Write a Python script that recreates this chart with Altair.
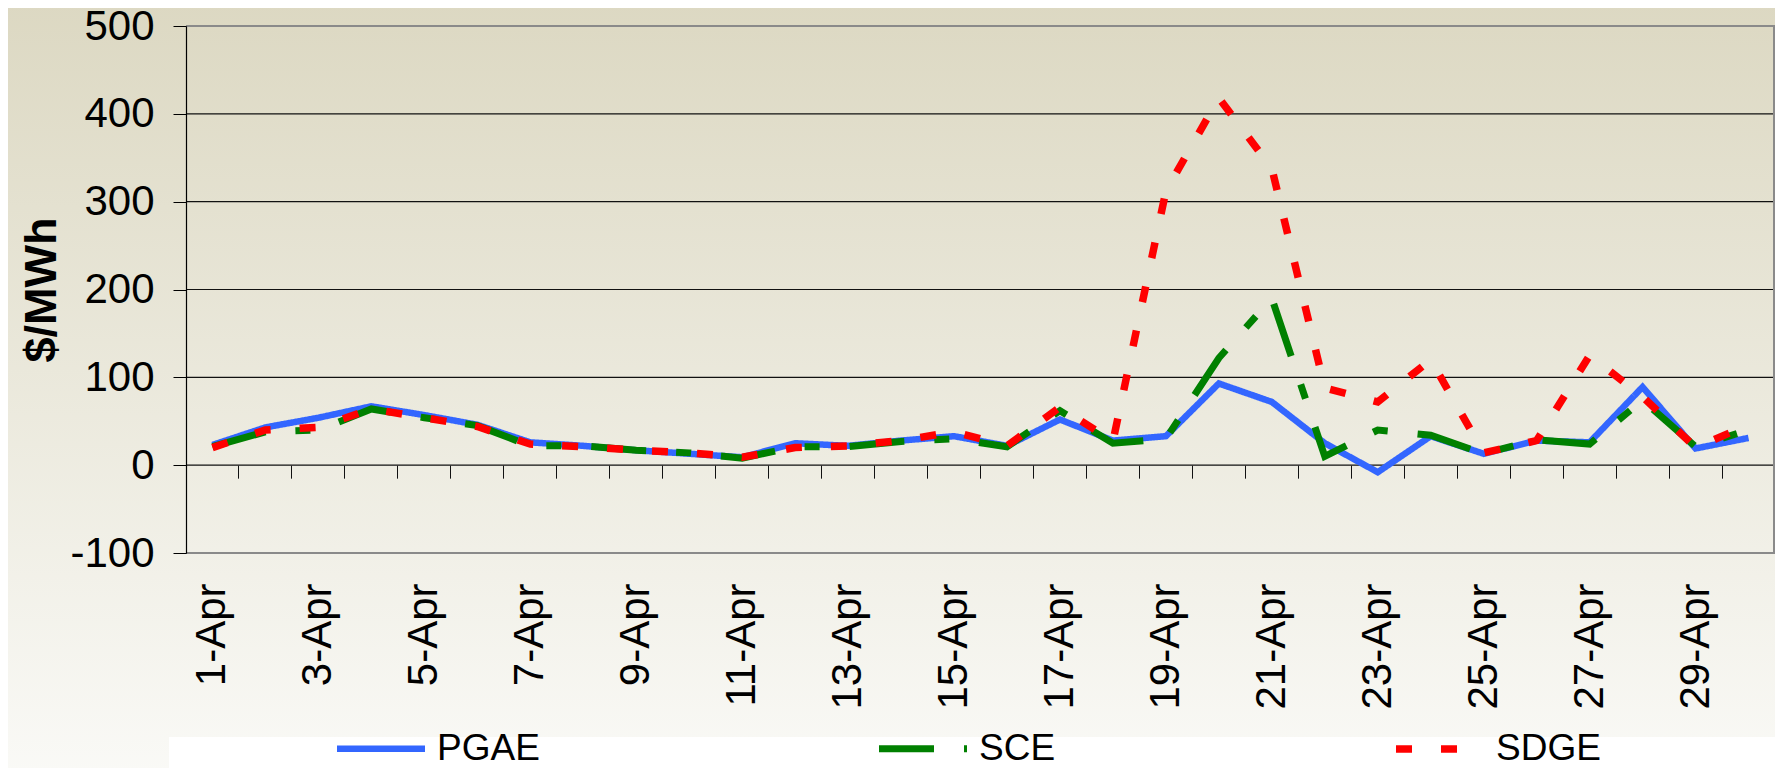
import altair as alt
import pandas as pd

# ---------------- data ----------------
dates = [f"{d}-Apr" for d in range(1, 31)]
label_dates = dates[::2]

pgae = [23, 43, 54, 67, 57, 46, 26, 22, 17, 13, 9, 25, 22, 28, 33, 22, 52, 28, 33, 93,
        72, 25, -8, 33, 13, 28, 26, 89, 19, 31]
sce = [21, 38, 40, 64, 54, 45, 22, 22, 17, 14, 8, 21, 21, 27, 30, 21, 62, 25, 30, 122,
       190, 10, 40, 34, 13, 29, 24, 74, 21, 40]
sdge = [20, 40, 43, 64, 54, 44, 24, 21, 17, 14, 9, 20, 22, 28, 38, 22, 66, 27, 312, 418,
        338, 88, 72, 120, 14, 28, 125, 78, 20, 46]

series_names = ["PGAE", "SCE", "SDGE"]
series_colors = ["#3366FF", "#008000", "#FF0000"]
series_dashes = [[1, 0], [55, 30, 15, 30], [16, 29]]
series_widths = [6.5, 7.5, 7.5]

y_ticks = [-100, 0, 100, 200, 300, 400, 500]

# ---------------- layout ----------------
W, H = 1589, 527
YMIN, YMAX = -100, 500
FONT = "Liberation Sans"
zero_from_bottom = H * (0 - YMIN) / (YMAX - YMIN)

df = pd.DataFrame({
    "date": dates * 3,
    "value": pgae + sce + sdge,
    "series": [s for s in series_names for _ in dates],
})
grid_df = pd.DataFrame({"value": y_ticks})
one = pd.DataFrame({"a": [0]})
tick_df = pd.DataFrame({"date": dates})

xscale = alt.Scale(type="band", paddingInner=0, paddingOuter=0)
yscale = alt.Scale(domain=[YMIN, YMAX], nice=False, zero=False)

y_axis = alt.Axis(values=y_ticks, grid=False, tickSize=13, tickColor="black",
                  tickWidth=1, domainColor="black", domainWidth=1.2,
                  labelFontSize=42, labelFont=FONT, labelColor="black", labelPadding=19,
                  labelExpr="'' + datum.value",
                  title="$/MWh", titleFont=FONT, titleFontSize=45,
                  titleFontWeight="bold", titleColor="black", titlePadding=5,
                  zindex=1)

gradient = {
    "gradient": "linear", "x1": 0, "y1": 0, "x2": 0, "y2": 1,
    "stops": [{"offset": 0, "color": "#DCD8C2"}, {"offset": 1, "color": "#FAFAF7"}],
}

bg = alt.Chart(one).mark_rect(color=gradient).encode(
    x=alt.value(-186), x2=alt.value(W + 30), y=alt.value(-26), y2=alt.value(784 - 26)
)
legend_box = alt.Chart(one).mark_rect(color="white").encode(
    x=alt.value(-17), x2=alt.value(W + 30), y=alt.value(711), y2=alt.value(800)
)

grid = alt.Chart(grid_df).mark_rule().encode(
    y=alt.Y("value:Q", scale=yscale, axis=y_axis),
    color=alt.condition("datum.value == 500 || datum.value == -100", alt.value("#8A8A8A"), alt.value("#111111")),
    strokeWidth=alt.condition("datum.value == 500 || datum.value == -100", alt.value(2), alt.value(1.2)),
)
right_border = alt.Chart(one).mark_rule(color="#8A8A8A", strokeWidth=2).encode(
    x=alt.value(W - 1), y=alt.value(0), y2=alt.value(H)
)

tick_layer = alt.Chart(tick_df).mark_point(opacity=0).encode(
    x=alt.X("date:N", sort=dates, scale=xscale,
            axis=alt.Axis(labels=False, domain=False, grid=False, ticks=True, tickSize=13,
                          tickColor="#111111", tickWidth=1, bandPosition=0,
                          offset=-zero_from_bottom, title=None, zindex=1, orient="bottom")),
)

leg = alt.Legend(title=None, orient="none", legendX=147, legendY=675, direction="horizontal",
                 columns=3, columnPadding=325, symbolType="stroke", symbolSize=7744,
                 symbolStrokeWidth=8, labelFontSize=37, labelFont=FONT, labelColor="black",
                 labelOffset=8, padding=0)

lines = alt.Chart(df).mark_line(strokeCap="butt").encode(
    x=alt.X("date:N", sort=dates, scale=xscale,
            axis=alt.Axis(values=label_dates, ticks=False, domain=False, grid=False,
                          labelAngle=270, labelFontSize=42, labelFont=FONT, labelColor="black",
                          labelPadding=30, title=None, bandPosition=0.5, labelOverlap=False,
                          zindex=1, orient="bottom")),
    y=alt.Y("value:Q", scale=yscale, axis=y_axis),
    color=alt.Color("series:N", scale=alt.Scale(domain=series_names, range=series_colors), legend=leg),
    strokeDash=alt.StrokeDash("series:N", scale=alt.Scale(domain=series_names, range=series_dashes), legend=leg),
    strokeWidth=alt.StrokeWidth("series:N", scale=alt.Scale(domain=series_names, range=series_widths), legend=None),
)

chart = alt.layer(bg, legend_box, grid, right_border, tick_layer, lines).resolve_axis(
    x="independent"
).properties(
    width=W, height=H,
    padding={"left": 178, "top": 18, "right": 0, "bottom": 215},
    autosize=alt.AutoSizeParams(type="none"),
).configure_view(stroke=None).configure(background="white")

chart.save("out.html", embed_options={"renderer": "svg", "actions": False})
